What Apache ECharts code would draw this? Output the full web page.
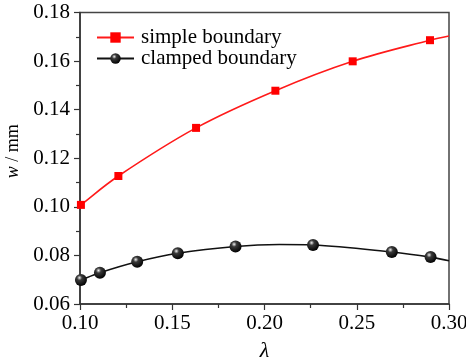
<!DOCTYPE html>
<html>
<head>
<meta charset="utf-8">
<script src="https://cdn.jsdelivr.net/npm/echarts@6/dist/echarts.min.js"></script>
<style>
  html, body { margin: 0; padding: 0; background: #fff; }
  #chart { width: 466px; height: 357px; }
</style>
</head>
<body>
<div id="chart"></div>
<script>
// Measured deflection w (mm) against lambda for two boundary conditions
var simpleX  = [0.1005, 0.1208, 0.1629, 0.2059, 0.2478, 0.2897];
var simpleY  = [0.1008, 0.1127, 0.1325, 0.1478, 0.1599, 0.1686];
var clampedX = [0.1005, 0.1108, 0.1310, 0.1530, 0.1843, 0.2263, 0.2690, 0.2900];
var clampedY = [0.0699, 0.0729, 0.0774, 0.0809, 0.0837, 0.0843, 0.0814, 0.0793];

// Extra points along the fitted curves (ends and crest), where no marker sits
var simpleTraceX  = [0.1000, 0.3000];
var simpleTraceY  = [0.1003, 0.1703];
var clampedTraceX = [0.1000, 0.2080, 0.3000];
var clampedTraceY = [0.0697, 0.0845, 0.0778];

var xTicks = [0.10, 0.15, 0.20, 0.25, 0.30];
var yTicks = [0.06, 0.08, 0.10, 0.12, 0.14, 0.16, 0.18];

var serif = 'Liberation Serif';

function buildData(mx, my, tx, ty, sym) {
  var pts = [];
  for (var i = 0; i < mx.length; i++) pts.push({ value: [mx[i], my[i]], symbol: sym });
  for (var j = 0; j < tx.length; j++) pts.push({ value: [tx[j], ty[j]], symbol: 'none' });
  pts.sort(function (a, b) { return a.value[0] - b.value[0]; });
  return pts;
}

var sphere = {
  type: 'radial', x: 0.38, y: 0.32, r: 0.7,
  colorStops: [
    { offset: 0, color: '#f0f0f0' },
    { offset: 0.3, color: '#3a3a3a' },
    { offset: 1, color: '#000000' }
  ]
};

var chart = echarts.init(document.getElementById('chart'), null, { renderer: 'canvas' });

chart.setOption({
  animation: false,
  backgroundColor: '#ffffff',
  grid: {
    left: 80, right: 17, top: 12.5, bottom: 53,
    outerBoundsMode: 'none',
    containLabel: false,
    show: true, borderColor: '#444', borderWidth: 1.5, backgroundColor: 'transparent'
  },
  legend: {
    orient: 'vertical',
    left: 91, top: 22,
    itemWidth: 37, itemHeight: 13, itemGap: 0,
    textStyle: { fontFamily: serif, fontSize: 21, color: '#000', lineHeight: 20, padding: [0, 0, 0, 2] },
    data: ['simple boundary', 'clamped boundary']
  },
  xAxis: {
    type: 'value',
    min: 0.10, max: 0.30, interval: 0.05,
    name: 'λ',
    nameLocation: 'middle',
    nameGap: 36,
    nameTextStyle: { fontFamily: serif, fontSize: 22, fontStyle: 'italic', color: '#000' },
    axisLine: { show: true, lineStyle: { color: '#333', width: 1.5 } },
    axisTick: { show: true, inside: false, length: 6, lineStyle: { color: '#333', width: 1.2 } },
    minorTick: { show: true, splitNumber: 2, length: 4, lineStyle: { color: '#333', width: 1.2 } },
    axisLabel: {
      margin: 9,
      fontFamily: serif, fontSize: 21, color: '#000',
      formatter: function (v) {
        for (var i = 0; i < xTicks.length; i++) if (Math.abs(v - xTicks[i]) < 1e-9) return xTicks[i].toFixed(2);
        return '';
      }
    },
    splitLine: { show: false }
  },
  yAxis: {
    type: 'value',
    min: 0.06, max: 0.18, interval: 0.02,
    name: '{i|w} / mm',
    nameLocation: 'middle',
    nameGap: 57,
    nameRotate: 90,
    nameTextStyle: {
      fontFamily: serif, fontSize: 18, color: '#000', padding: [0, 0, 0, 14],
      rich: { i: { fontFamily: serif, fontSize: 18, fontStyle: 'italic', color: '#000' } }
    },
    axisLine: { show: true, lineStyle: { color: '#333', width: 1.5 } },
    axisTick: { show: true, inside: false, length: 6, lineStyle: { color: '#333', width: 1.2 } },
    minorTick: { show: true, splitNumber: 2, length: 4, lineStyle: { color: '#333', width: 1.2 } },
    axisLabel: {
      margin: 10,
      fontFamily: serif, fontSize: 21, color: '#000',
      formatter: function (v) {
        for (var i = 0; i < yTicks.length; i++) if (Math.abs(v - yTicks[i]) < 1e-9) return yTicks[i].toFixed(2);
        return '';
      }
    },
    splitLine: { show: false }
  },
  series: [
    {
      name: 'simple boundary',
      type: 'line',
      smooth: 0.35,
      symbol: 'rect',
      symbolSize: 8,
      showAllSymbol: true,
      lineStyle: { color: '#ff1a1a', width: 1.6 },
      itemStyle: { color: '#ff0000' },
      data: buildData(simpleX, simpleY, simpleTraceX, simpleTraceY, 'rect'),
      z: 3
    },
    {
      name: 'clamped boundary',
      type: 'line',
      smooth: 0.35,
      symbol: 'circle',
      symbolSize: 12,
      showAllSymbol: true,
      lineStyle: { color: '#111', width: 1.6 },
      itemStyle: { color: sphere },
      data: buildData(clampedX, clampedY, clampedTraceX, clampedTraceY, 'circle'),
      z: 3
    }
  ]
});
</script>
</body>
</html>
